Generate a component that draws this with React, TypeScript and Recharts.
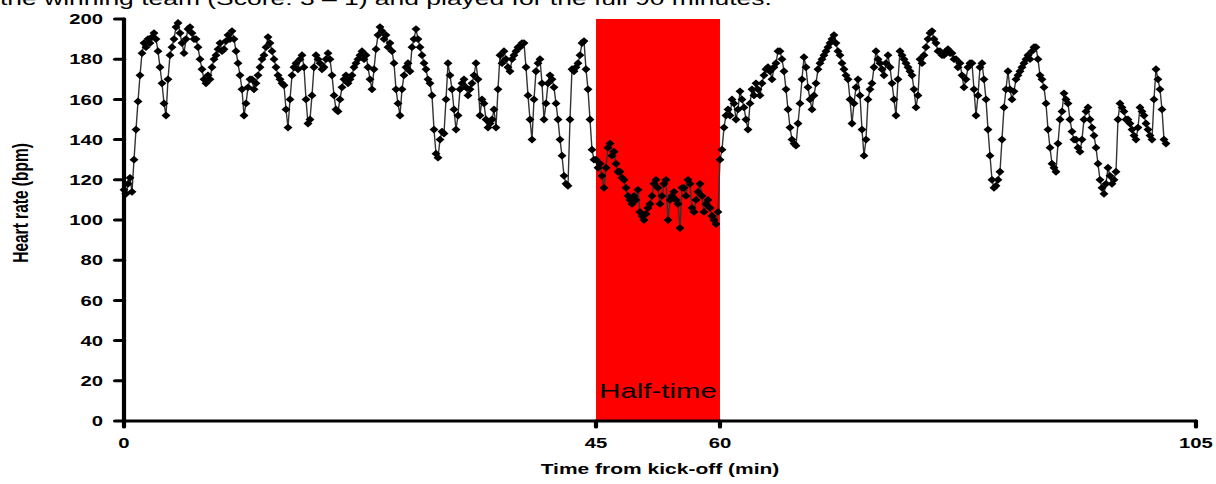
import { LineChart, Line, XAxis, YAxis, ReferenceArea } from "recharts";

// heart rate readings (bpm), one per sample slot
const firstHalf = [
  115, 113, 118, 121, 114, 130, 145, 159, 172, 183, 188, 186, 190, 188, 191, 193, 190, 184, 176, 168,
  158, 152, 170, 182, 186, 190, 196, 198, 193, 188, 183, 190, 195, 196, 193, 190, 190, 186, 180, 175,
  170, 168, 172, 170, 176, 180, 182, 185, 188, 184, 185, 189, 192, 190, 194, 190, 184, 178, 172, 165,
  152, 158, 166, 170, 170, 165, 168, 172, 176, 180, 182, 186, 191, 188, 184, 180, 176, 172, 170, 168,
  167, 155, 146, 160, 172, 176, 178, 175, 180, 182, 176, 160, 148, 150, 162, 176, 182, 180, 178, 175,
  176, 180, 183, 180, 172, 162, 155, 154, 160, 166, 170, 172, 168, 170, 172, 176, 178, 180, 182, 184,
  180, 182, 176, 170, 165, 175, 185, 192, 196, 194, 190, 192, 186, 188, 184, 178, 165, 158, 152, 165,
  172, 176, 178, 174, 186, 190, 195, 190, 186, 182, 178, 175, 170, 168, 162, 145, 133, 131, 140, 144,
  143, 160, 178, 172, 165, 155, 145, 152, 165, 168, 170, 166, 162, 165, 168, 172, 178, 170, 152, 160,
  158, 150, 146, 148, 150, 155, 146, 165, 182, 178, 184, 180, 176, 174, 180, 182, 184, 186, 186, 188,
  188, 176, 162, 150, 140, 160, 174, 178, 180, 168, 150, 158, 168, 172, 170, 166, 158, 150, 140, 132,
  122, 118, 117, 150, 175, 174, 176, 178, 182, 188, 189, 175, 165, 150, 135, 130,
];

const halfTime = [
  130, 126, 128, 122, 116, 126, 136, 138, 132, 134, 128, 124, 124, 121, 120, 116, 112, 110, 108, 112,
  110, 115, 104, 102, 100, 103, 106, 108, 112, 118, 120, 116, 108, 112, 118, 120, 100, 110, 112, 114,
  110, 108, 96, 116, 116, 112, 120, 118, 106, 104, 110, 114, 118, 112, 104, 108, 110, 106, 102, 100,
  98, 104,
];

const secondHalf = [
  130, 135, 146, 152, 155, 152, 160, 158, 150, 155, 164, 160, 156, 150, 145, 158, 165, 162, 168, 165,
  162, 168, 172, 175, 176, 174, 170, 176, 178, 184, 184, 180, 174, 165, 155, 146, 140, 138, 137, 148,
  158, 170, 181, 176, 166, 160, 155, 162, 168, 175, 178, 180, 182, 184, 186, 188, 190, 192, 188, 184,
  182, 178, 175, 172, 170, 160, 148, 158, 166, 170, 162, 145, 132, 140, 160, 165, 168, 176, 184, 180,
  178, 175, 172, 178, 182, 176, 168, 160, 152, 170, 184, 182, 180, 178, 176, 174, 172, 165, 156, 162,
  180, 178, 182, 186, 190, 193, 194, 190, 188, 184, 184, 182, 182, 184, 185, 183, 183, 180, 180, 176,
  178, 172, 166, 170, 176, 178, 178, 165, 152, 162, 176, 178, 170, 160, 145, 132, 120, 116, 117, 120,
  124, 140, 156, 165, 174, 165, 160, 164, 170, 172, 174, 176, 178, 180, 182, 180, 184, 186, 186, 180,
  172, 170, 166, 158, 145, 136, 128, 126, 124, 138, 150, 154, 163, 160, 158, 150, 144, 140, 140, 136,
  134, 140, 150, 154, 156, 150, 146, 142, 136, 128, 120, 116, 113, 118, 126, 122, 118, 120, 124, 150,
  158, 156, 154, 150, 150, 148, 145, 142, 140, 146, 156, 154, 152, 148, 145, 142, 140, 160, 175, 170,
  165, 155, 140, 138,
];

const minuteTicks = [0, 45, 60, 105];
const secondHalfSlots = 238; // sample slots between the 60 and 105 min marks
const yTicks = [0, 20, 40, 60, 80, 100, 120, 140, 160, 180, 200];

const data = [...firstHalf, ...halfTime, ...secondHalf].map((hr, i) => ({
  sample: i,
  hr,
}));
const halfStart = firstHalf.length;
const halfEnd = firstHalf.length + halfTime.length;
const tickSamples = [0, halfStart, halfEnd, halfEnd + secondHalfSlots];

// the original figure is stretched sideways
const STRETCH = 1.4;
const W = 1216 / STRETCH;
const FONT = '"Liberation Sans", Arial, sans-serif';

const Diamond = (props: any) => {
  const { cx, cy, index } = props;
  if (cx == null || cy == null) return <g key={index} />;
  const w = 3.2;
  const h = 3.9;
  return (
    <polygon
      key={index}
      points={`${cx},${cy - h} ${cx + w},${cy} ${cx},${cy + h} ${cx - w},${cy}`}
      fill="#000"
    />
  );
};

const axisStyle = { stroke: "#000", strokeWidth: 3, strokeLinecap: "round" as const };
const tickStyle = { fill: "#000", fontSize: 14.5, fontWeight: 700, fontFamily: FONT };

export default function App() {
  return (
    <div
      style={{
        position: "absolute",
        left: 0,
        top: 0,
        width: W,
        height: 484,
        overflow: "hidden",
        transform: `scaleX(${STRETCH})`,
        transformOrigin: "0 0",
        background: "#fff",
      }}
    >
      <LineChart
        width={W}
        height={484}
        data={data}
        margin={{ top: 19, right: W - 1196 / STRETCH, bottom: 0, left: 124 / STRETCH - 60 }}
      >
        <ReferenceArea
          x1={halfStart}
          x2={halfEnd}
          y1={0}
          y2={200}
          fill="#ff0000"
          fillOpacity={1}
          stroke="none"
          label={{
            value: "Half-time",
            position: "insideBottom",
            offset: 23,
            fill: "#000",
            fontSize: 21,
            fontFamily: FONT,
          }}
        />
        <XAxis
          type="number"
          dataKey="sample"
          domain={[0, tickSamples[3]]}
          ticks={tickSamples}
          tickFormatter={(v: number) => String(minuteTicks[tickSamples.indexOf(v)])}
          height={63}
          tickSize={6}
          tickMargin={11}
          axisLine={axisStyle}
          tickLine={axisStyle}
          tick={tickStyle}
          label={{
            value: "Time from kick-off (min)",
            position: "insideBottom",
            offset: 10,
            fill: "#000",
            fontSize: 15,
            fontWeight: 700,
            fontFamily: FONT,
          }}
        />
        <YAxis
          type="number"
          domain={[0, 200]}
          ticks={yTicks}
          width={60}
          tickSize={6.4}
          tickMargin={8.6}
          axisLine={axisStyle}
          tickLine={axisStyle}
          tick={tickStyle}
          label={{
            content: () => (
              <text
                x={20.3}
                y={203}
                transform="rotate(-90 20.3 203)"
                textAnchor="middle"
                fill="#000"
                fontSize={15.5}
                fontWeight={700}
                fontFamily={FONT}
              >
                Heart rate (bpm)
              </text>
            ),
          }}
        />
        <Line
          type="linear"
          dataKey="hr"
          stroke="#333"
          strokeWidth={1}
          dot={Diamond}
          activeDot={false}
          isAnimationActive={false}
        />
      </LineChart>
      <div
        style={{
          position: "absolute",
          left: 0,
          top: -11.05,
          fontFamily: FONT,
          fontSize: 18.9,
          lineHeight: "20px",
          whiteSpace: "nowrap",
          color: "#000",
        }}
      >
        the winning team (Score: 3 – 1) and played for the full 90 minutes.
      </div>
    </div>
  );
}
